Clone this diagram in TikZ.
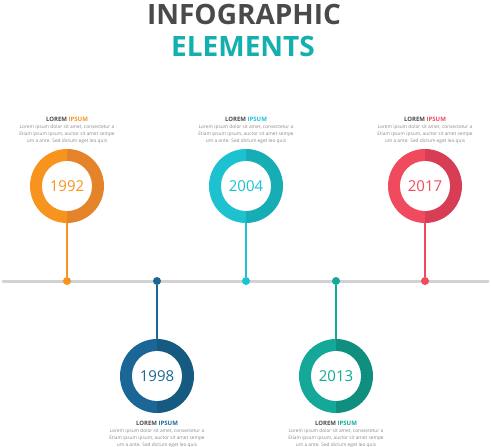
\documentclass[tikz,border=0pt]{standalone}
\usepackage{fontspec}
\setmainfont{Open Sans}
\usetikzlibrary{positioning}

\definecolor{titlegray}{HTML}{4A4A4A}
\definecolor{titleteal}{HTML}{14AFAF}
\definecolor{linegray}{HTML}{D2D2D2}
\definecolor{textgray}{HTML}{888888}
\definecolor{orngL}{HTML}{F7941E}
\definecolor{orngD}{HTML}{E5832B}
\definecolor{bluL}{HTML}{1A6696}
\definecolor{bluD}{HTML}{155A80}
\definecolor{telL}{HTML}{1CC2D0}
\definecolor{telD}{HTML}{17ADB4}
\definecolor{grnL}{HTML}{14A898}
\definecolor{grnD}{HTML}{108F80}
\definecolor{rdL}{HTML}{F04A5E}
\definecolor{rdD}{HTML}{D83D56}

\begin{document}
\begin{tikzpicture}[x=1pt, y=-1pt,
    ring/.style={circle, minimum size=74pt, inner sep=0pt, text=#1, font=\fontsize{15}{15}\selectfont},
    dot/.style={circle, fill=#1, minimum size=8pt, inner sep=0pt},
    head/.style={font=\bfseries\fontsize{6}{6}\selectfont, text=titlegray, inner sep=0pt},
    body/.style={font=\fontsize{4.8}{6.8}\selectfont, text=textgray, align=center, inner sep=0pt}]

    \useasboundingbox (0,0) rectangle (491,447);

    % Title
    \node[font=\bfseries\fontsize{28}{28}\selectfont, text=titlegray] (title) at (244,14) {INFOGRAPHIC};
    \node[font=\bfseries\fontsize{28}{28}\selectfont, text=titleteal] (subtitle) at (243,46) {ELEMENTS};

    % Timeline
    \coordinate (tl) at (3,281);
    \coordinate (tr) at (488,281);
    \draw[linegray, line width=3pt, line cap=round] (tl) -- (tr);

    % Milestones (year / x / circle y / label y / light / dark)
    \foreach \yr/\px/\py/\ty/\lc/\dc in {1992/67/186/119/orngL/orngD, 1998/157/376/423/bluL/bluD,
        2004/246/186/119/telL/telD, 2013/336/376/423/grnL/grnD, 2017/425/186/119/rdL/rdD} {
        \fill[\lc] (\px,\py) ++(90:37) arc (90:270:37) -- cycle;
        \fill[\dc] (\px,\py) ++(270:37) arc (270:450:37) -- cycle;
        \fill[white] (\px,\py) circle (25);
        \node[ring=\lc] (c\yr) at (\px,\py) {\yr};
        \node[dot=\lc] (d\yr) at (\px,281) {};
        \draw[\lc, line width=2pt] (c\yr) -- (d\yr);
        \node[head] (h\yr) at (\px,\ty) {LOREM \textcolor{\lc}{IPSUM}};
        \node[body, below=3.5pt of h\yr] (t\yr) {Lorem ipsum dolor sit amet, consectetur a\\
            Etiam ipsum ipsum, auctor sit amet sempe\\um a ante. Sed dictum eget leo quis};
    }
\end{tikzpicture}
\end{document}
